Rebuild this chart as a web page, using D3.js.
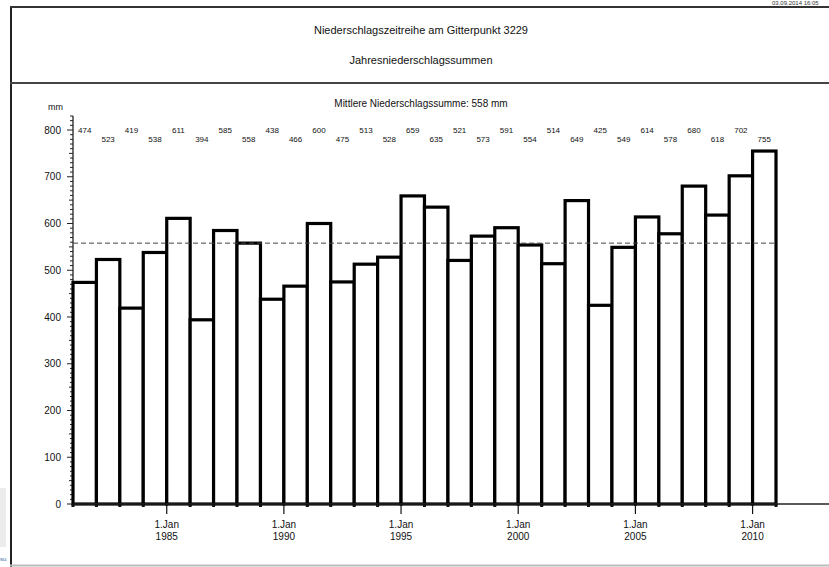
<!DOCTYPE html>
<html>
<head>
<meta charset="utf-8">
<script src="https://cdn.jsdelivr.net/npm/d3@7"></script>
<style>
  body { margin: 0; background: #fff; }
  svg { display: block; font-family: "Liberation Sans", Arial, sans-serif; }
</style>
</head>
<body>
<div id="chart"></div>
<script>
const years = [1981, 1982, 1983, 1984, 1985, 1986, 1987, 1988, 1989, 1990,
               1991, 1992, 1993, 1994, 1995, 1996, 1997, 1998, 1999, 2000,
               2001, 2002, 2003, 2004, 2005, 2006, 2007, 2008, 2009, 2010];
const sums = [474, 523, 419, 538, 611, 394, 585, 558, 438, 466,
              600, 475, 513, 528, 659, 635, 521, 573, 591, 554,
              514, 649, 425, 549, 614, 578, 680, 618, 702, 755];
const yTicks = [0, 100, 200, 300, 400, 500, 600, 700, 800];
const xTickYears = [1985, 1990, 1995, 2000, 2005, 2010];
const titleText = "Niederschlagszeitreihe am Gitterpunkt 3229";
const subtitleText = "Jahresniederschlagssummen";
const stampText = "03.09.2014 16:05";

const width = 829, height = 567;
const mean = Math.round(d3.mean(sums));

const svg = d3.select("#chart")
    .append("svg")
    .attr("width", width)
    .attr("height", height);

// frame
svg.append("rect").attr("x", 0).attr("y", 488).attr("width", 6).attr("height", 59).attr("fill", "#ececec");
svg.append("text").attr("x", 0).attr("y", 561).attr("font-size", 6).attr("fill", "#3b6fa8").text("su");
svg.append("line").attr("x1", 11).attr("x2", 11).attr("y1", 7).attr("y2", 567).attr("stroke", "#222").attr("stroke-width", 2);
svg.append("line").attr("x1", 10).attr("x2", width).attr("y1", 7).attr("y2", 7).attr("stroke", "#333").attr("stroke-width", 2);
svg.append("line").attr("x1", 10).attr("x2", width).attr("y1", 83).attr("y2", 83).attr("stroke", "#444").attr("stroke-width", 2);
svg.append("line").attr("x1", 10).attr("x2", width).attr("y1", 565.5).attr("y2", 565.5).attr("stroke", "#bbb").attr("stroke-width", 2);

svg.append("text").attr("x", 772).attr("y", 5).attr("font-size", 6).attr("fill", "#333").text(stampText);

svg.append("text").attr("x", 421).attr("y", 34).attr("text-anchor", "middle")
    .attr("font-size", 11).attr("fill", "#111").text(titleText);
svg.append("text").attr("x", 421).attr("y", 64).attr("text-anchor", "middle")
    .attr("font-size", 11).attr("fill", "#111").text(subtitleText);
svg.append("text").attr("x", 421).attr("y", 107).attr("text-anchor", "middle")
    .attr("font-size", 10).attr("fill", "#111").text("Mittlere Niederschlagssumme: " + mean + " mm");

// scales
const x = d3.scaleTime()
    .domain([new Date(1981, 0, 1), new Date(2011, 0, 1)])
    .range([73, 776]);
const y = d3.scaleLinear()
    .domain([0, 800])
    .range([504, 130]);

const g = svg.append("g");

// y axis
g.append("line").attr("x1", 73).attr("x2", 73).attr("y1", y(0)).attr("y2", y(830))
    .attr("stroke", "#222").attr("stroke-width", 1.3);
const minor = d3.range(0, 831, 10);
g.selectAll(".ymin")
    .data(minor)
    .enter()
    .append("line")
    .attr("x1", (d) => d % 100 === 0 ? 67 : (d % 50 === 0 ? 69 : 70))
    .attr("x2", 73)
    .attr("y1", (d) => y(d))
    .attr("y2", (d) => y(d))
    .attr("stroke", "#222")
    .attr("stroke-width", 1);
g.selectAll(".ylab")
    .data(yTicks)
    .enter()
    .append("text")
    .attr("x", 61)
    .attr("y", (d) => y(d) + 3.5)
    .attr("text-anchor", "end")
    .attr("font-size", 10)
    .attr("fill", "#111")
    .text((d) => d);
svg.append("text").attr("x", 63).attr("y", 110).attr("text-anchor", "end")
    .attr("font-size", 9).attr("fill", "#111").text("mm");

// bars
g.selectAll(".bar")
    .data(sums)
    .enter()
    .append("rect")
    .attr("class", "bar")
    .attr("x", (d, i) => x(new Date(years[i], 0, 1)))
    .attr("width", (d, i) => x(new Date(years[i] + 1, 0, 1)) - x(new Date(years[i], 0, 1)))
    .attr("y", (d) => y(d))
    .attr("height", (d) => y(0) - y(d))
    .attr("fill", "#fff")
    .attr("stroke", "#000")
    .attr("stroke-width", 3.2);

// value labels
g.selectAll(".val")
    .data(sums)
    .enter()
    .append("text")
    .attr("x", (d, i) => (x(new Date(years[i], 0, 1)) + x(new Date(years[i] + 1, 0, 1))) / 2)
    .attr("y", (d, i) => i % 2 === 0 ? 133 : 142)
    .attr("text-anchor", "middle")
    .attr("font-size", 8)
    .attr("fill", "#111")
    .text((d) => d);

// mean line
g.append("line")
    .attr("x1", 73).attr("x2", x(new Date(2011, 0, 1)))
    .attr("y1", y(mean)).attr("y2", y(mean))
    .attr("stroke", "#444").attr("stroke-width", 1)
    .attr("stroke-dasharray", "5,3");

// x axis
g.append("line").attr("x1", 73).attr("x2", width).attr("y1", y(0)).attr("y2", y(0))
    .attr("stroke", "#222").attr("stroke-width", 1.5);
g.selectAll(".xmin")
    .data(years.concat([2011]))
    .enter()
    .append("line")
    .attr("x1", (d) => x(new Date(d, 0, 1)))
    .attr("x2", (d) => x(new Date(d, 0, 1)))
    .attr("y1", y(0))
    .attr("y2", (d) => xTickYears.includes(d) ? y(0) + 10 : y(0) + 3)
    .attr("stroke", "#111")
    .attr("stroke-width", (d) => xTickYears.includes(d) ? 1.2 : 3);
const xl = g.selectAll(".xlab")
    .data(xTickYears)
    .enter()
    .append("text")
    .attr("text-anchor", "middle")
    .attr("font-size", 10)
    .attr("fill", "#111");
xl.append("tspan")
    .attr("x", (d) => x(new Date(d, 0, 1)))
    .attr("y", 528)
    .text("1.Jan");
xl.append("tspan")
    .attr("x", (d) => x(new Date(d, 0, 1)))
    .attr("y", 540)
    .text((d) => d);
</script>
</body>
</html>
